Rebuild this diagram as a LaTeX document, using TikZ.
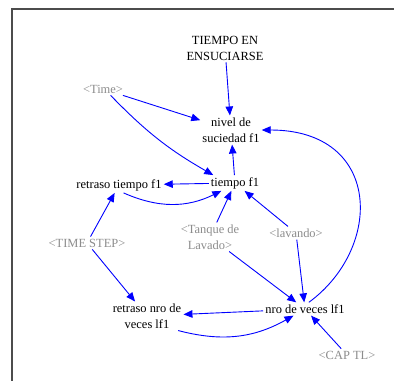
\documentclass[tikz,border=0pt]{standalone}
\usepackage{fontspec}
\setmainfont{Liberation Serif}
\usetikzlibrary{arrows.meta}
\definecolor{vgray}{RGB}{140,140,140}
\definecolor{vblue}{RGB}{0,0,255}
\begin{document}
\begin{tikzpicture}[x=1bp,y=-1bp,
  lbl/.style={font=\fontsize{12.5}{16}\selectfont, align=center, inner sep=2bp, text=black},
  shadow/.style={lbl, text=vgray},
  link/.style={draw=vblue, line width=0.9bp, -{Triangle[length=9bp,width=7.5bp]}}]
\useasboundingbox (0,0) rectangle (394,381);
\draw[line width=1.3bp, draw=black!70] (12,381) -- (12,9) -- (394,9);
\node[lbl] (top) at (225,48) {TIEMPO EN\\ENSUCIARSE};
\node[shadow] (time) at (103,89) {<Time>};
\node[lbl] (nivel) at (231,130) {nivel de\\suciedad f1};
\node[lbl] (tiempo) at (235,183) {tiempo f1};
\node[lbl] (rt) at (119,185) {retraso tiempo f1};
\node[shadow] (ts) at (87,243) {<TIME STEP>};
\node[shadow] (tanque) at (210,237) {<Tanque de\\Lavado>};
\node[shadow] (lav) at (296,233) {<lavando>};
\node[lbl] (nro) at (305,309) {nro de veces lf1};
\node[lbl] (rnro) at (147,316) {retraso nro de\\veces lf1};
\node[shadow] (cap) at (347,355) {<CAP TL>};
\draw[link] (top) -- (nivel);
\draw[link] (time) -- (nivel);
\draw[link] (time.-40) to[bend right=8] (tiempo.160);
\draw[link] (tiempo) -- (nivel);
\draw[link] (tiempo) -- (rt);
\draw[link] (rt.-60) to[bend right=25] (tiempo.-150);
\draw[link] (ts) -- (rt);
\draw[link] (ts) -- (rnro);
\draw[link] (tanque) -- (tiempo);
\draw[link] (lav) -- (tiempo);
\draw[link] (tanque) -- (nro);
\draw[link] (lav) -- (nro);
\draw[link] (nro) -- (rnro);
\draw[link] (rnro.-25) to[bend right=22] (nro.-150);
\draw[link] (cap) -- (nro);
\draw[link] (nro.60) .. controls +(75,-55) and +(120,0) .. (nivel.east);
\end{tikzpicture}
\end{document}
